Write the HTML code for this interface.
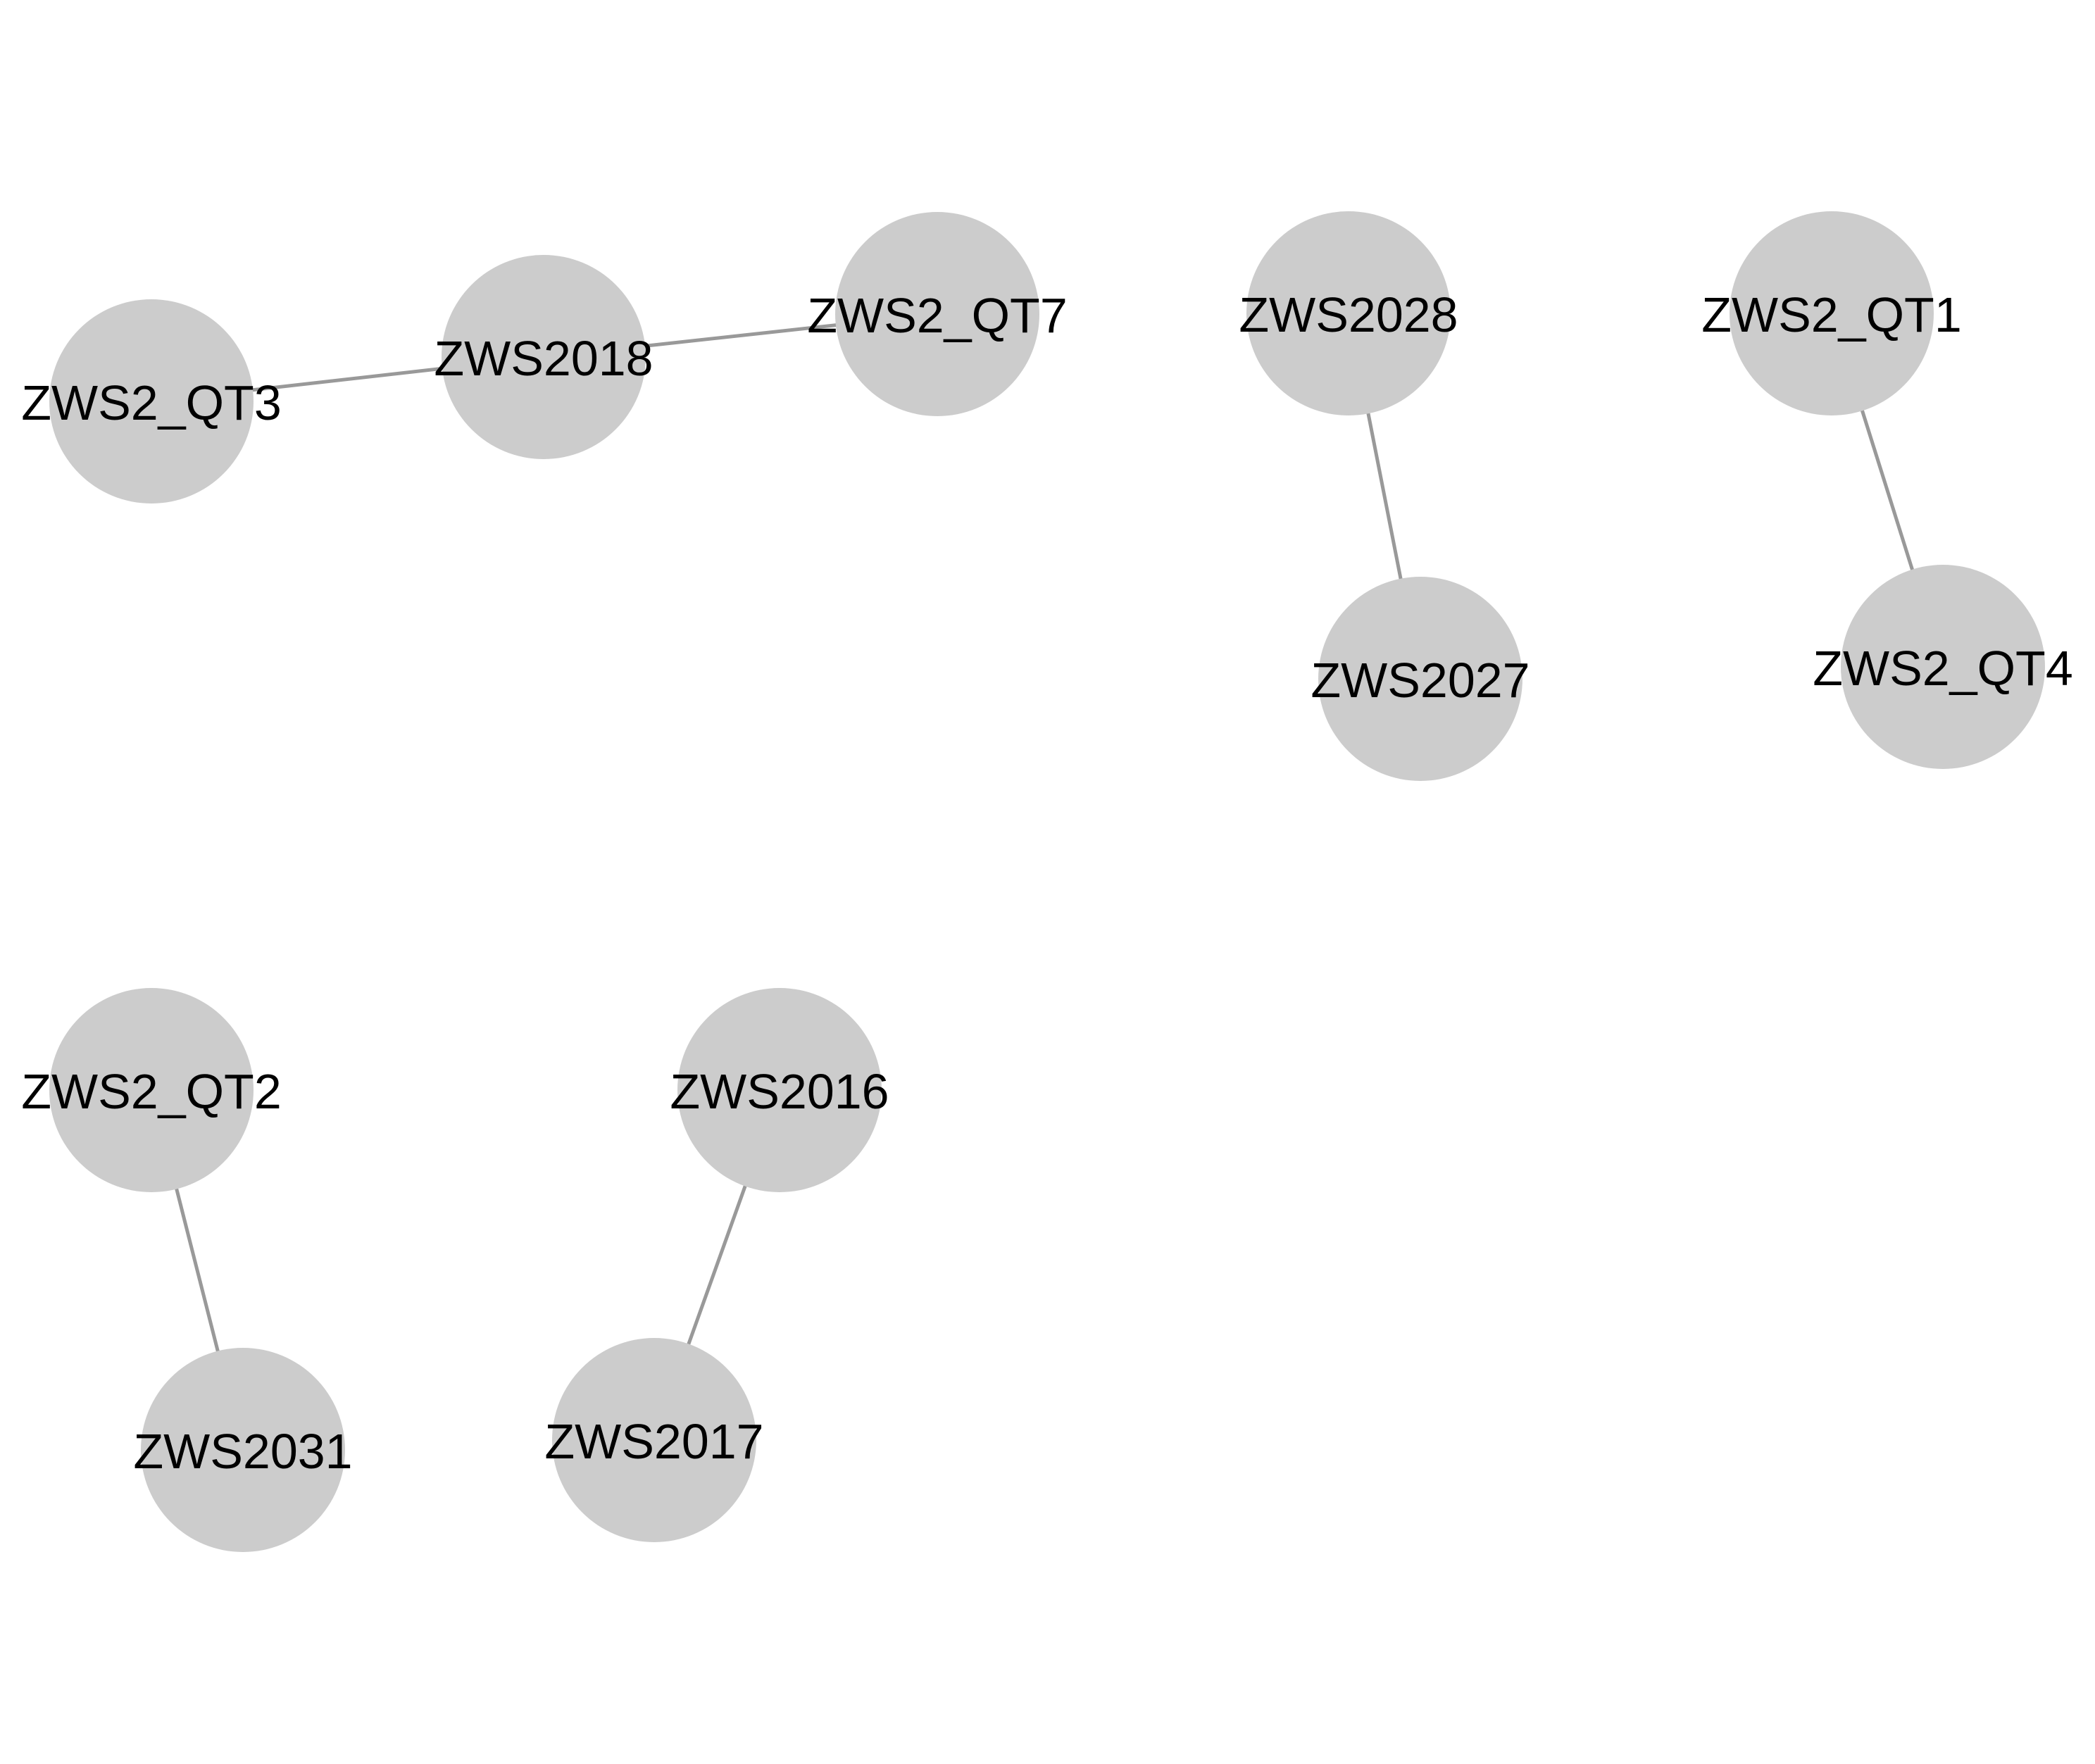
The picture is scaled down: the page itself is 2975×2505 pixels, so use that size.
<!DOCTYPE html>
<html><head><meta charset="utf-8"><style>
html,body{margin:0;padding:0;background:#fff;}
svg{display:block;}
text{font-family:"Liberation Sans",sans-serif;font-size:70px;fill:#000;text-anchor:middle;}
</style></head><body>
<svg id="chart" width="2975" height="2505" viewBox="0 0 2975 2505" xmlns="http://www.w3.org/2000/svg">
<rect width="2975" height="2505" fill="#fff"/>
<g id="edges"></g><g id="nodes"></g>
</svg>
<script>
const nodeNames = ["ZWS2_QT3","ZWS2018","ZWS2_QT7","ZWS2028","ZWS2027","ZWS2_QT1","ZWS2_QT4","ZWS2_QT2","ZWS2031","ZWS2016","ZWS2017"];
const nodeX = [215,772,1331,1915,2017,2601,2759,215,345,1107,929];
const nodeY = [570,507,446,445,964,445,947,1548,2059,1548,2045];
const edgeFrom = [0,1,3,5,7,9];
const edgeTo = [1,2,4,6,8,10];
const R = 145;
const NS = "http://www.w3.org/2000/svg";
const eg = document.getElementById('edges'), ng = document.getElementById('nodes');
for (let i = 0; i < edgeFrom.length; i++) {
  const a = edgeFrom[i], b = edgeTo[i];
  const l = document.createElementNS(NS, 'line');
  l.setAttribute('x1', nodeX[a]); l.setAttribute('y1', nodeY[a]);
  l.setAttribute('x2', nodeX[b]); l.setAttribute('y2', nodeY[b]);
  l.setAttribute('stroke', '#999'); l.setAttribute('stroke-width', '5');
  
  
  eg.appendChild(l);
}
for (let i = 0; i < nodeNames.length; i++) {
  const c = document.createElementNS(NS, 'circle');
  c.setAttribute('cx', nodeX[i]); c.setAttribute('cy', nodeY[i]); c.setAttribute('r', R);
  c.setAttribute('fill', '#cccccc');
  
  
  ng.appendChild(c);
  const t = document.createElementNS(NS, 'text');
  t.setAttribute('x', nodeX[i]); t.setAttribute('y', nodeY[i] + 26);
  t.textContent = nodeNames[i];
  
  
  ng.appendChild(t);
}
</script>
</body></html>
